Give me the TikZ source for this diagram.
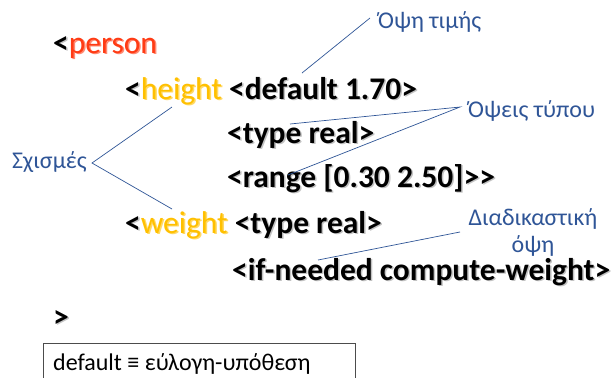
\documentclass[tikz,border=0pt]{standalone}
\usepackage{fontspec}
\setmainfont{Carlito}
\usetikzlibrary{calc}
\definecolor{slotred}{HTML}{FF3B14}
\definecolor{slotgold}{HTML}{FFC000}
\definecolor{notetext}{HTML}{2F5597}
\definecolor{noteline}{HTML}{2F5597}
\definecolor{shade}{HTML}{9A9A9A}

\tikzset{
  code/.style={anchor=base west, inner sep=0pt, font=\fontsize{31.5}{34}\selectfont\bfseries, text=black},
  codeshadow/.style={code, text=shade, opacity=0.6},
  note/.style={inner sep=0pt, font=\fontsize{24}{28}\selectfont, text=notetext},
  lead/.style={draw=noteline, line width=0.7pt},
}
% a line of frame text with a soft drop shadow
\newcommand\frameline[3]{%
  \node[codeshadow] at ($(#1)+(1.5,1.5)$) {#3};
  \node[code] (#2) at (#1) {#3};
}
\newcommand\slotname[2]{{\mdseries\color{#1}#2}}

\begin{document}
\begin{tikzpicture}[x=1pt, y=-1pt]
\useasboundingbox (0,0) rectangle (614,378);
\fill[white] (0,0) rectangle (614,378);

% the frame
\frameline{53,53}{person}{<\slotname{slotred}{person}}
\frameline{125,99}{height}{<\slotname{slotgold}{height} <default 1.70>}
\frameline{227,143}{htype}{<type real>}
\frameline{227,187}{hrange}{<range [0.30 2.50]>{}>}
\frameline{125,233}{weight}{<\slotname{slotgold}{weight} <type real>}
\frameline{232,280}{wproc}{<if-needed compute-weight>}
\frameline{53,327}{close}{>}

% footnote box
\draw[draw=black!70, line width=0.8pt] (43,343) rectangle (355,390);
\node[anchor=base west, inner sep=0pt, font=\fontsize{24}{28}\selectfont] (foot) at (53,370) {default ≡ εύλογη-υπόθεση};

% annotations
\node[note, anchor=base west] (valview) at (378,28) {Όψη τιμής};
\node[note, anchor=base west] (typeview) at (468,117) {Όψεις τύπου};
\node[note, anchor=base west] (slots) at (12,168) {Σχισμές};
\node[note, anchor=base] (procview) at (533,225) {Διαδικαστική};
\node[note, anchor=base] (procview2) at (533,252) {όψη};

\coordinate (vA) at (370,18);
\coordinate (vB) at (302,73);
\coordinate (tA) at (460,107);
\coordinate (tB) at (290,124);
\coordinate (tC) at (288,175);
\coordinate (sA) at (92,163);
\coordinate (sB) at (172,107);
\coordinate (sC) at (172,209);
\coordinate (pA) at (460,232);
\coordinate (pB) at (318,260);

\draw[lead] (vA) -- (vB);
\draw[lead] (tB) -- (tA) -- (tC);
\draw[lead] (sB) -- (sA) -- (sC);
\draw[lead] (pA) -- (pB);
\end{tikzpicture}
\end{document}
